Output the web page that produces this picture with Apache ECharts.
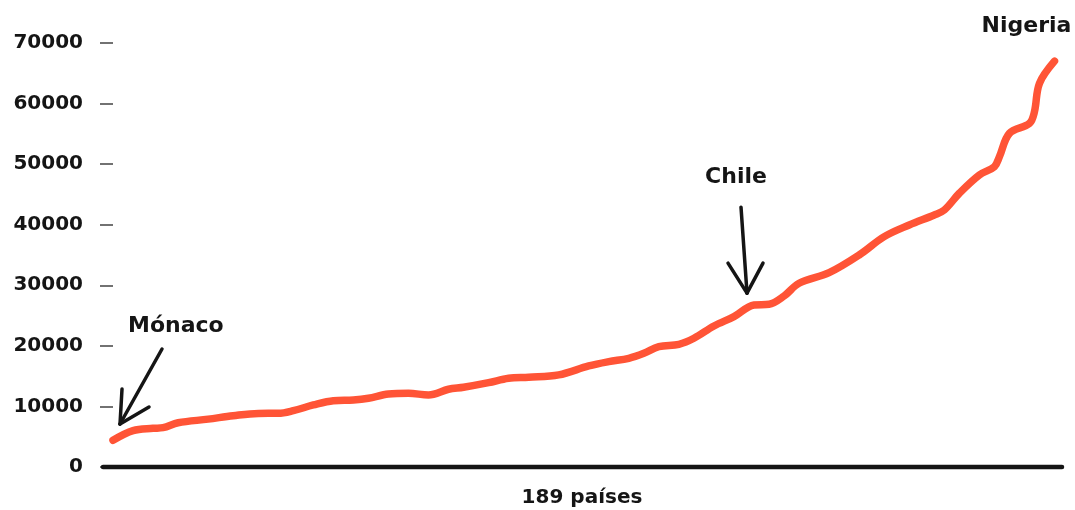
<!DOCTYPE html>
<html>
<head>
<meta charset="utf-8">
<script src="https://cdn.jsdelivr.net/npm/echarts@6/dist/echarts.min.js"></script>
<style>
html,body{margin:0;padding:0;background:#fff;overflow:hidden;}
#chart{width:1075px;height:510px;}
</style>
</head>
<body>
<div id="chart"></div>
<script>
// Rank of country (1..189) and value
var countryRank = [1, 5, 9, 11, 14, 20, 25, 30, 34, 37, 41, 45, 49, 52, 56, 60, 64, 68, 71, 76, 80, 84, 90, 96, 100, 104, 107, 110, 114, 117, 121, 125, 129, 132, 135, 138, 144, 150, 155, 160, 165, 167, 170, 174, 177, 178, 180, 184, 185, 186, 189];
var values = [4400, 6000, 6380, 6490, 7300, 7900, 8470, 8850, 8860, 9300, 10240, 10950, 11060, 11340, 12050, 12170, 11890, 12830, 13160, 13920, 14640, 14810, 15200, 16680, 17390, 17940, 18770, 19870, 20260, 21250, 23280, 24820, 26750, 26860, 28230, 30330, 32080, 35000, 38030, 39960, 41610, 42430, 45190, 48210, 49580, 51230, 55080, 56730, 58660, 63350, 67000];
var yTicks = [0, 10000, 20000, 30000, 40000, 50000, 60000, 70000];
var xName = '189 países';
var annotNames = ['Mónaco', 'Chile', 'Nigeria'];
var annotRank = [2.4, 127.6, 189];
var annotValue = [7100, 28700, 67000];

var FONT = '"DejaVu Sans", sans-serif';
var INK = '#151515';
var chart = echarts.init(document.getElementById('chart'));
var seriesData = countryRank.map(function (r, i) { return [r, values[i]]; });

chart.setOption({
  animation: false,
  backgroundColor: '#fff',
  grid: { left: 113, right: 13, top: 43, bottom: 43, containLabel: false, outerBoundsMode: 'none' },
  xAxis: {
    type: 'value', min: 1, max: 190.5,
    axisLine: { show: false }, axisTick: { show: false },
    axisLabel: { show: false }, splitLine: { show: false },
    name: xName, nameLocation: 'middle', nameGap: 21,
    nameTextStyle: { fontFamily: FONT, fontWeight: 'bold', fontSize: 20, color: INK, padding: [0, 11, 0, 0] }
  },
  yAxis: {
    type: 'value', min: yTicks[0], max: yTicks[yTicks.length - 1], interval: yTicks[1] - yTicks[0],
    axisLine: { show: false },
    axisTick: { show: true, length: 13, lineStyle: { color: '#444', width: 1.5 } },
    axisLabel: { margin: 30, fontFamily: FONT, fontWeight: 'bold', fontSize: 20, color: INK,
      formatter: function (v) { return String(v); } },
    splitLine: { show: false }
  },
  series: [{
    type: 'line', data: seriesData, smooth: 0.35, showSymbol: false,
    lineStyle: { color: '#FF5436', width: 7.5, cap: 'round', join: 'round' }
  }]
});

function px(r, v) { return chart.convertToPixel({ gridIndex: 0 }, [r, v]); }
var o = px(1, 0), top = px(1, yTicks[yTicks.length - 1]), rightEnd = px(190.5, 0);
var g = [];
// hand-drawn-like axes
g.push({ type: 'line', shape: { x1: o[0], y1: top[1] - 8, x2: o[0], y2: o[1] + 7 }, style: { stroke: INK, lineWidth: 3.5, lineCap: 'round' }, z: 10 });
g.push({ type: 'line', shape: { x1: o[0] - 10, y1: o[1], x2: rightEnd[0], y2: o[1] }, style: { stroke: INK, lineWidth: 4.5, lineCap: 'round' }, z: 10 });

function arrow(tip, pts) {
  pts.forEach(function (p) {
    g.push({ type: 'line', shape: { x1: tip[0] + p[0], y1: tip[1] + p[1], x2: tip[0], y2: tip[1] }, style: { stroke: INK, lineWidth: 3.5, lineCap: 'round' }, z: 10 });
  });
}
function label(text, x, y, align) {
  g.push({ type: 'text', x: x, y: y, style: { text: text, fill: INK, font: 'bold 22px ' + FONT, textAlign: align, textVerticalAlign: 'bottom' }, z: 10 });
}
var t0 = px(annotRank[0], annotValue[0]);
arrow(t0, [[42, -75], [2, -35], [29, -17]]);
label(annotNames[0], t0[0] + 8, t0[1] - 87, 'left');
var t1 = px(annotRank[1], annotValue[1]);
arrow(t1, [[-6, -86], [-19, -30], [16, -30]]);
label(annotNames[1], t1[0] - 11, t1[1] - 105, 'center');
var t2 = px(annotRank[2], annotValue[2]);
label(annotNames[2], t2[0] - 28, t2[1] - 24, 'center');
chart.setOption({ graphic: g });
</script>
</body>
</html>
